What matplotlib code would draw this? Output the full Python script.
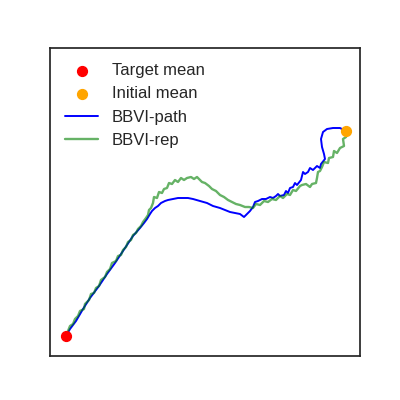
import numpy as np
import matplotlib
matplotlib.use('Agg')
import matplotlib.pyplot as plt

plt.style.use('seaborn-v0_8-white')
plt.rcParams['font.family'] = ['Liberation Sans', 'DejaVu Sans']

# ── data ──
target_mean = (66, 65)
initial_mean = (346, 270)

path_x = [346, 340, 333, 327, 323, 321, 322, 324, 325, 321, 320, 317, 315, 313, 310, 308, 305,
          303, 302, 301, 297, 295, 293, 290, 288, 286, 284, 280, 278, 276, 273, 270, 266, 262,
          258, 255, 253, 250, 246, 244, 240, 235, 230, 225, 220, 213, 207, 200, 193, 188, 183,
          178, 173, 168, 165, 161, 158, 155, 152, 150, 147, 144, 140, 133, 123, 115, 107, 99,
          90, 83, 76, 70, 66]
path_y = [270, 273, 273, 272, 269, 262, 254, 247, 242, 237, 233, 235, 233, 231, 233, 229, 227,
          229, 225, 221, 216, 218, 214, 213, 208, 210, 206, 205, 207, 205, 203, 204, 202, 202,
          200, 199, 194, 190, 186, 184, 187, 188, 189, 191, 193, 195, 198, 200, 202, 203, 203,
          203, 202, 201, 200, 198, 195, 193, 190, 187, 182, 178, 173, 165, 150, 138, 127, 115,
          103, 92, 80, 72, 65]

rep_x = [346, 346, 343, 344, 340, 337, 334, 333, 329, 328, 324, 322, 320, 318, 317, 316, 312,
         310, 306, 302, 300, 296, 293, 290, 287, 283, 280, 276, 272, 268, 264, 260, 256, 253,
         249, 245, 240, 236, 232, 228, 224, 220, 216, 212, 209, 205, 202, 199, 197, 194, 191,
         187, 184, 181, 178, 175, 172, 169, 167, 164, 162, 159, 157, 154, 153, 151, 149, 148,
         146, 143, 141, 138, 136, 133, 131, 128, 126, 123, 121, 118, 116, 112, 110, 107, 105,
         101, 99, 96, 94, 91, 89, 85, 84, 80, 78, 75, 73, 70, 68, 66]
rep_y = [270, 264, 262, 255, 253, 248, 250, 244, 243, 238, 239, 234, 230, 229, 223, 218, 217,
         214, 217, 216, 215, 210, 211, 206, 207, 203, 205, 201, 202, 199, 200, 196, 197, 193,
         194, 194, 196, 197, 199, 201, 204, 206, 210, 212, 215, 218, 219, 222, 224, 222, 224,
         223, 221, 223, 219, 221, 217, 218, 213, 212, 208, 209, 203, 204, 198, 193, 191, 186,
         183, 179, 175, 172, 168, 166, 161, 159, 154, 151, 146, 145, 140, 138, 132, 129, 124,
         121, 115, 113, 108, 107, 101, 97, 92, 90, 85, 82, 77, 75, 70, 65]

fig, ax = plt.subplots(figsize=(4, 4), dpi=100)

ax.scatter(*target_mean, color='red', s=50, zorder=5, label='Target mean')
ax.scatter(*initial_mean, color='orange', s=50, zorder=5, label='Initial mean')
ax.plot(path_x, path_y, color='blue', lw=1.4, label='BBVI-path')
ax.plot(rep_x, rep_y, color='green', lw=1.7, alpha=0.6, label='BBVI-rep')

ax.set_xlim(50, 360)
ax.set_ylim(45, 353)
ax.set_xticks([])
ax.set_yticks([])
ax.legend(loc='upper left', fontsize=12, frameon=False)

plt.savefig('out.png', dpi=100, facecolor='white')
